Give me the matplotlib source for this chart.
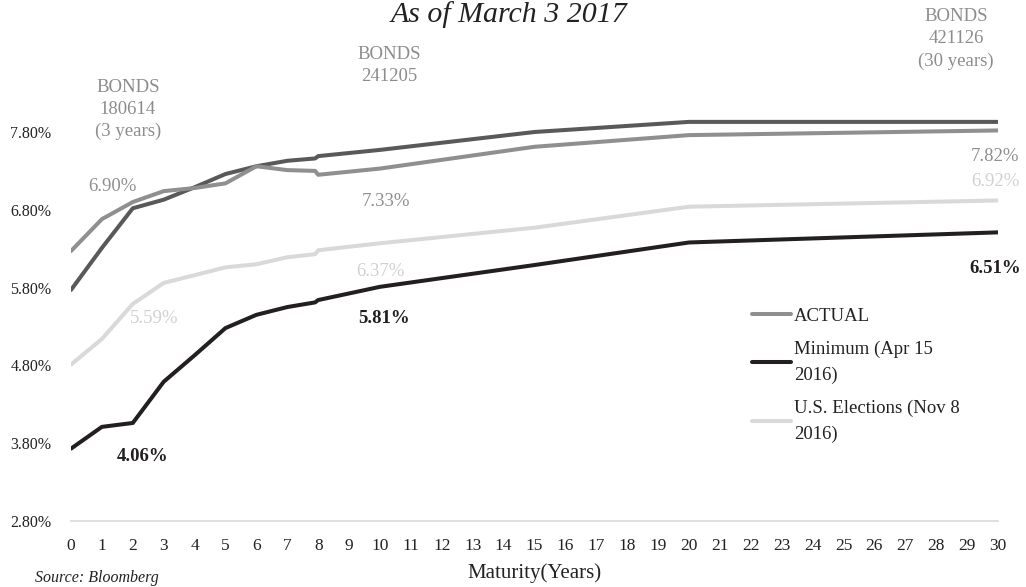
import matplotlib.pyplot as plt
from matplotlib.ticker import FixedLocator, FuncFormatter

plt.rcParams['font.family'] = ['Liberation Serif', 'DejaVu Serif']

# maturities (years); 7.9 is the short bond just before the 8-year point
maturity = [0, 1, 2, 3, 4, 5, 6, 7, 7.9, 8, 10, 15, 20, 30]

actual = [6.27, 6.68, 6.90, 7.04, 7.08, 7.14, 7.36, 7.31, 7.30, 7.25, 7.33, 7.61, 7.76, 7.82]
upper = [5.77, 6.31, 6.82, 6.93, 7.09, 7.26, 7.36, 7.43, 7.46, 7.49, 7.57, 7.80, 7.93, 7.93]
elections = [4.81, 5.14, 5.59, 5.86, 5.96, 6.06, 6.10, 6.19, 6.23, 6.28, 6.37, 6.57, 6.84, 6.92]
minimum = [3.73, 4.01, 4.06, 4.59, 4.93, 5.28, 5.45, 5.55, 5.61, 5.64, 5.81, 6.09, 6.38, 6.51]

y_ticks = [2.8, 3.8, 4.8, 5.8, 6.8, 7.8]
x_ticks = list(range(0, 31))

bond_notes = [("BONDS\n180614\n(3 years)", 1.84, 8.09),
              ("BONDS\n241205", 10.3, 8.65),
              ("BONDS\n421126\n(30 years)", 28.64, 9.0)]

c_actual = '#8f8f8f'
c_upper = '#595959'
c_elect = '#d9d9d9'
c_min = '#231f20'
c_text = '#222222'

fig = plt.figure(figsize=(10.26, 5.87), dpi=100)
ax_top = 15.3
ax_h = 521 - ax_top
ax = fig.add_axes([71 / 1026, 1 - 521 / 587, 927 / 1026, ax_h / 587])

lw = 2.9
ax.plot(maturity, upper, color=c_upper, lw=lw, solid_capstyle='round')
ax.plot(maturity, actual, color=c_actual, lw=lw, solid_capstyle='round', label='ACTUAL')
ax.plot(maturity, minimum, color=c_min, lw=lw, solid_capstyle='round', label='Minimum (Apr 15\n2016)')
ax.plot(maturity, elections, color=c_elect, lw=lw, solid_capstyle='round',
        label='U.S. Elections (Nov 8\n2016)')

ax.set_xlim(0, 30)
ax.set_ylim(2.8, 9.3)
ax.xaxis.set_major_locator(FixedLocator(x_ticks))
ax.yaxis.set_major_locator(FixedLocator(y_ticks))
ax.yaxis.set_major_formatter(FuncFormatter(lambda v, p: f"{v:.2f}%"))
ax.tick_params(length=0, colors=c_text)
ax.tick_params(axis='x', pad=12, labelsize=12.5)
ax.tick_params(axis='y', pad=14, labelsize=11.5)
for s in ['top', 'right', 'left']:
    ax.spines[s].set_visible(False)
ax.spines['bottom'].set_color('#d9d9d9')
ax.spines['bottom'].set_linewidth(1.2)


def tag(x, series, color, dx, dy, bold=False):
    y = series[maturity.index(x)]
    ax.annotate(f"{y:.2f}%", (x, y), xytext=(dx * 0.72, dy * 0.72),
                textcoords='offset points', ha='center', va='center',
                color=color, fontsize=13.5, fontweight='bold' if bold else 'normal')


tag(2, actual, c_actual, -20, 16)
tag(2, elections, '#d0d0d0', 21, -15)
tag(2, minimum, c_min, 10, -34, bold=True)
tag(10, actual, c_actual, 6, -33)
tag(10, elections, '#d0d0d0', 0, -28)
tag(10, minimum, c_min, 4, -32, bold=True)
tag(30, actual, c_actual, -3, -26)
tag(30, elections, '#d0d0d0', -3, 19)
tag(30, minimum, c_min, -3, -36, bold=True)

for text, x, y in bond_notes:
    ax.text(x, y, text, ha='center', va='center', color='#8c8c8c',
            fontsize=13.5, linespacing=1.4, clip_on=False)

leg = ax.legend(loc='upper left',
                bbox_to_anchor=((744 - 71) / 927, 1 - (300 - ax_top) / ax_h),
                frameon=False, fontsize=13.5, handlelength=2.1, handletextpad=0.15,
                labelspacing=0.85, borderaxespad=0)
for t in leg.get_texts():
    t.set_color(c_text)
    t.set_linespacing(1.65)

fig.text(509 / 1026, 1 - 15 / 587, "As of March 3 2017", ha='center', va='center',
         fontsize=21.5, style='italic', color=c_text)
ax.set_xlabel("Maturity(Years)", fontsize=15, color=c_text, labelpad=7)
fig.text(35 / 1026, 1 - 578 / 587, "Source: Bloomberg", ha='left', va='center',
         fontsize=11.5, style='italic', color=c_text)

fig.savefig('out.png', dpi=100)
